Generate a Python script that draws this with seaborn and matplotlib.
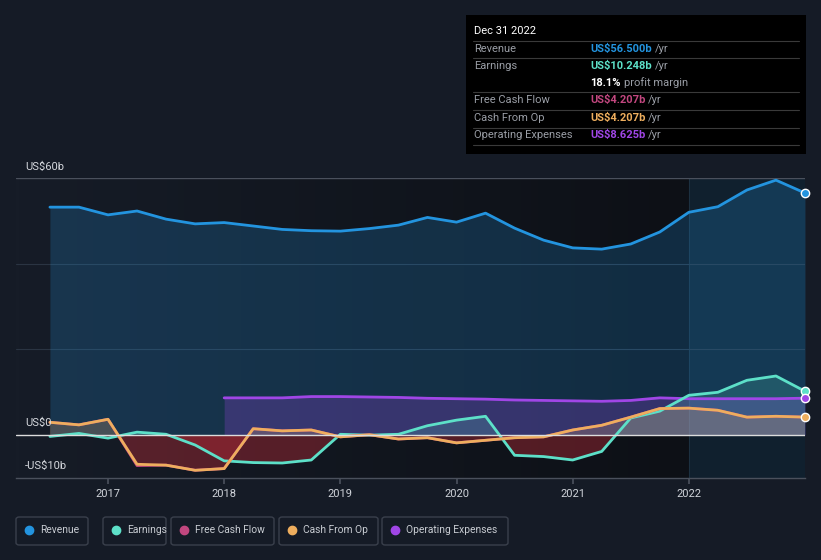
import numpy as np
import pandas as pd
import seaborn as sns
import matplotlib.pyplot as plt
from matplotlib.patches import FancyBboxPatch, Rectangle
from matplotlib.lines import Line2D
from matplotlib.colors import LinearSegmentedColormap

# quarter ends, Jun 2016 .. Dec 2022
quarters = [2016.5 + 0.25 * i for i in range(27)]
revenue = [53.2, 53.2, 51.4, 52.3, 50.4, 49.3, 49.6, 48.8, 48.0, 47.7, 47.6, 48.2, 49.0, 50.8,
           49.7, 51.8, 48.3, 45.5, 43.7, 43.4, 44.6, 47.4, 52.0, 53.3, 57.2, 59.5, 56.5]
earnings = [-0.3, 0.4, -0.7, 0.7, 0.2, -2.3, -6.0, -6.4, -6.5, -5.8, 0.2, 0.0, 0.2, 2.2,
            3.5, 4.4, -4.7, -5.0, -5.8, -3.8, 4.0, 5.6, 9.3, 10.0, 12.8, 13.8, 10.248]
cash_from_op = [3.0, 2.4, 3.7, -6.8, -7.0, -8.2, -7.8, 1.5, 1.0, 1.2, -0.4, 0.1, -0.9, -0.6,
                -1.8, -1.2, -0.6, -0.4, 1.2, 2.3, 4.2, 6.2, 6.3, 5.8, 4.2, 4.4, 4.207]
free_cash_flow = [3.0, 2.4, 3.7, -7.1, -7.0, -8.2, -7.8, 1.5, 1.0, 1.2, -0.4, 0.1, -0.9, -0.6,
                  -1.8, -1.2, -0.6, -0.4, 1.2, 2.3, 4.2, 6.2, 6.3, 5.8, 4.2, 4.4, 4.207]
opex_quarters = quarters[6:]
opex = [8.7, 8.7, 8.7, 9.0, 9.0, 8.9, 8.8, 8.6, 8.5, 8.4, 8.2, 8.1, 8.0, 7.9, 8.1, 8.7,
        8.5, 8.5, 8.5, 8.5, 8.625]

year_ticks = [2017, 2018, 2019, 2020, 2021, 2022]

C_REV, C_EARN, C_FCF, C_CFO, C_OPEX = '#2394df', '#5de0c8', '#c2477f', '#eeae5e', '#a046e6'
BG = '#151b26'
W, H = 821, 560


def fx(x):
    return x / W


def fy(y):
    return 1 - y / H


sns.set_theme(style='dark')
plt.rcParams['font.family'] = ['Roboto', 'DejaVu Sans']

fig = plt.figure(figsize=(W / 100, H / 100), dpi=100, facecolor=BG)
ax = fig.add_axes([fx(16), fy(478), (805 - 16) / W, 300 / H])
ax.set_facecolor(BG)
x0, x1 = 2016.208, 2023.0
ax.set_xlim(x0, x1)
ax.set_ylim(-10, 60)

# background gradient, darker towards 2022, then bluish last year
grad = np.linspace(0, 1, 200)[None, :]
cm = LinearSegmentedColormap.from_list('bg', ['#161c27', '#0d1016'])
ax.imshow(grad, extent=[x0, 2022, -10, 60], aspect='auto', cmap=cm, zorder=0)
ax.axvspan(2022, x1, color='#10202e', zorder=0.5, lw=0)
ax.axvline(2022, color='#1c3040', lw=0.8, zorder=0.6)

for g in [20, 40]:
    ax.axhline(g, color='#2a3442', lw=0.8, zorder=1)
ax.axhline(60, color='#4a505c', lw=1, zorder=1)

q = np.array(quarters)


def fill_series(xs, ys, color, alpha):
    ys = np.array(ys)
    ax.fill_between(xs, ys, 0, where=ys >= 0, interpolate=True, color=color, alpha=alpha, lw=0, zorder=2)
    ax.fill_between(xs, ys, 0, where=ys < 0, interpolate=True, color='#b52a35', alpha=0.42, lw=0, zorder=2)


ax.fill_between(q, revenue, 0, color=C_REV, alpha=0.22, lw=0, zorder=2)
ax.fill_between(opex_quarters, opex, 0, color=C_OPEX, alpha=0.25, lw=0, zorder=2)
fill_series(q, earnings, C_EARN, 0.18)
fill_series(q, cash_from_op, '#d8a070', 0.25)

df = pd.DataFrame({'q': quarters, 'Revenue': revenue, 'Earnings': earnings,
                   'Free Cash Flow': free_cash_flow, 'Cash From Op': cash_from_op})
lw = 2.0
sns.lineplot(data=df, x='q', y='Revenue', color=C_REV, lw=lw, ax=ax, zorder=4)
sns.lineplot(x=opex_quarters, y=opex, color=C_OPEX, lw=lw, ax=ax, zorder=4)
sns.lineplot(data=df, x='q', y='Earnings', color=C_EARN, lw=lw, ax=ax, zorder=4)
sns.lineplot(data=df, x='q', y='Free Cash Flow', color=C_FCF, lw=lw, ax=ax, zorder=4)
sns.lineplot(data=df, x='q', y='Cash From Op', color=C_CFO, lw=lw, ax=ax, zorder=4)

ax.axhline(0, color='#dcdcdc', lw=1, zorder=5)

for val, col in [(revenue[-1], C_REV), (earnings[-1], C_EARN), (opex[-1], C_OPEX), (cash_from_op[-1], C_CFO)]:
    ax.plot([quarters[-1]], [val], 'o', ms=6, mfc=col, mec='white', mew=1, zorder=6, clip_on=False)

ax.set_xlabel('')
ax.set_ylabel('')
ax.set_yticks([])
ax.set_xticks(year_ticks)
ax.set_xticklabels([str(y) for y in year_ticks], color='#d0d4da', fontsize=8)
ax.tick_params(axis='x', length=4, color='#4a505c', pad=4, bottom=True)
for s in ['top', 'right', 'left']:
    ax.spines[s].set_visible(False)
ax.spines['bottom'].set_color('#4a505c')
ax.spines['bottom'].set_linewidth(1)
ax.grid(False)

for txt, y in [('US$60b', 167), ('US$0', 423), ('-US$10b', 466)]:
    fig.text(fx(25), fy(y), txt, color='#d6d9de', fontsize=8, va='center', ha='left')

# tooltip box
fs = 8
fig.patches.append(Rectangle((fx(466), fy(154)), 340 / W, 139 / H, transform=fig.transFigure,
                             facecolor='#000000', edgecolor='none', zorder=10))
fig.text(fx(474), fy(31), 'Dec 31 2022', color='white', fontsize=8, va='center', zorder=11)
for y in [41, 58, 92, 110, 128, 145]:
    fig.add_artist(Line2D([fx(473), fx(799)], [fy(y), fy(y)], color='#3a3a3a', lw=0.8, zorder=11))
rows = [('Revenue', 'US$56.500b', C_REV, 49), ('Earnings', 'US$10.248b', C_EARN, 66),
        ('Free Cash Flow', 'US$4.207b', C_FCF, 100), ('Cash From Op', 'US$4.207b', C_CFO, 118),
        ('Operating Expenses', 'US$8.625b', C_OPEX, 135)]
for lab, val, col, y in rows:
    fig.text(fx(474), fy(y), lab, color='#9a9ea6', fontsize=fs, va='center', zorder=11)
    t = fig.text(fx(590), fy(y), val, color=col, fontsize=fs, va='center', weight='bold', zorder=11)
    fig.canvas.draw()
    bb = t.get_window_extent()
    fig.text(bb.x1 / W + 3 / W, fy(y), '/yr', color='#9a9ea6', fontsize=fs, va='center', zorder=11)
t = fig.text(fx(590), fy(83), '18.1%', color='white', fontsize=fs, va='center', weight='bold', zorder=11)
fig.canvas.draw()
bb = t.get_window_extent()
fig.text(bb.x1 / W + 3 / W, fy(83), 'profit margin', color='#9a9ea6', fontsize=fs, va='center', zorder=11)

# legend
legend = [('Revenue', C_REV, 16, 88), ('Earnings', C_EARN, 103, 166), ('Free Cash Flow', C_FCF, 171, 274),
          ('Cash From Op', C_CFO, 279, 378), ('Operating Expenses', C_OPEX, 382, 508)]
for lab, col, a, b in legend:
    fig.patches.append(FancyBboxPatch((fx(a), fy(545)), (b - a) / W, 28 / H, transform=fig.transFigure,
                                      boxstyle='round,pad=0,rounding_size=0.004', facecolor='none',
                                      edgecolor='#3a404c', lw=1))
    fig.add_artist(Line2D([fx(a + 13)], [fy(530)], marker='o', ms=6, color=col, lw=0))
    fig.text(fx(a + 24), fy(530), lab, color='#c8ccd2', fontsize=7.4, va='center')

fig.savefig('out.png', dpi=100, facecolor=BG)
